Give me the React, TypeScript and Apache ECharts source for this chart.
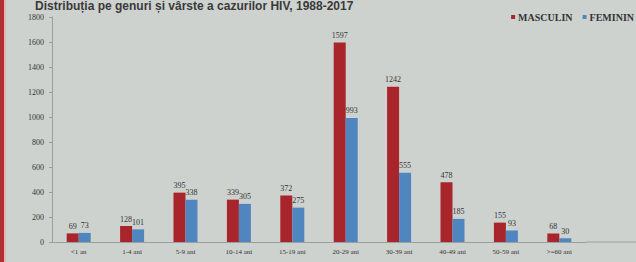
import React, { useEffect, useRef } from "react";
import * as echarts from "echarts";

const categories = ["<1 an", "1-4 ani", "5-9 ani", "10-14 ani", "15-19 ani", "20-29 ani", "30-39 ani", "40-49 ani", "50-59 ani", ">=60 ani"];
const masculin = [69, 128, 395, 339, 372, 1597, 1242, 478, 155, 68];
const feminin = [73, 101, 338, 305, 275, 993, 555, 185, 93, 30];
const titleText = "Distribuția pe genuri și vârste a cazurilor HIV, 1988-2017";

export default function App() {
  const ref = useRef<HTMLDivElement>(null);
  useEffect(() => {
    document.body.style.margin = "0";
    const chart = echarts.init(ref.current!, null, { renderer: "svg" });
    const serif = "'Liberation Serif', 'DejaVu Serif', serif";
    const labelStyle = {
      show: true,
      position: "top" as const,
      fontFamily: serif,
      fontSize: 8,
      color: "#333",
      distance: 3,
    };
    chart.setOption({
      animation: false,
      backgroundColor: "#ced2cf",
      title: {
        text: titleText,
        left: 35,
        top: 0,
        padding: 0,
        textStyle: { fontFamily: "'Liberation Sans', Arial, sans-serif", fontSize: 12, fontWeight: "bold", color: "#3a3a3a" },
      },
      legend: {
        data: ["MASCULIN", "FEMININ"],
        right: 2,
        top: 12,
        padding: 0,
        icon: "rect",
        itemWidth: 4,
        itemHeight: 4,
        itemGap: 10,
        textStyle: { fontFamily: serif, fontSize: 10, fontWeight: "bold", color: "#333", padding: [0, 0, 0, -2] },
      },
      grid: { left: 52, right: 50, top: 17, bottom: 20 },
      xAxis: {
        type: "category",
        data: categories,
        axisLine: { lineStyle: { color: "#9a9e9c" } },
        axisTick: { show: false },
        axisLabel: { fontFamily: serif, fontSize: 7, color: "#333", margin: 6, interval: 0 },
      },
      yAxis: {
        type: "value",
        min: 0,
        max: 1800,
        interval: 200,
        splitLine: { show: false },
        axisLine: { show: true, lineStyle: { color: "#9a9e9c" } },
        axisTick: { show: true, length: 3, lineStyle: { color: "#9a9e9c" } },
        axisLabel: { fontFamily: serif, fontSize: 8, color: "#333", margin: 8, formatter: (v: number) => String(v) },
      },
      graphic: [
        { type: "rect", left: 0, top: 0, shape: { width: 4, height: 262 }, style: { fill: "#b03034" } },
        { type: "rect", left: 4, top: 0, shape: { width: 2, height: 262 }, style: { fill: "#e2b5b3" } },
        { type: "line", shape: { x1: 586, y1: 242, x2: 636, y2: 242 }, style: { stroke: "#9a9e9c", lineWidth: 1 } },
      ],
      series: [
        {
          name: "MASCULIN",
          type: "bar",
          data: masculin,
          barWidth: 12,
          barGap: "0%",
          itemStyle: { color: "#a9252c" },
          label: labelStyle,
        },
        {
          name: "FEMININ",
          type: "bar",
          data: feminin,
          barWidth: 12,
          itemStyle: { color: "#4f86c0" },
          label: labelStyle,
        },
      ],
    });
    return () => chart.dispose();
  }, []);
  return <div ref={ref} style={{ width: 636, height: 262 }} />;
}
